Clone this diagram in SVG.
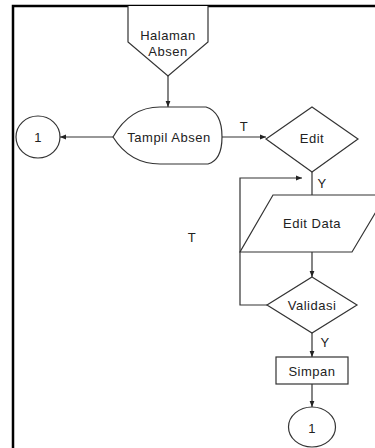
<svg xmlns="http://www.w3.org/2000/svg" width="375" height="448" viewBox="0 0 375 448">
<defs>
<style>
.s{fill:#fff;stroke:#333;stroke-width:1.2}
.c{fill:none;stroke:#333;stroke-width:1.2}
.t{font-family:"Liberation Sans",Arial,sans-serif;font-size:13px;letter-spacing:0.5px;fill:#222;text-anchor:middle;dominant-baseline:central}
</style>
<marker id="a" viewBox="0 0 10 10" refX="10" refY="5" markerWidth="5" markerHeight="5" orient="auto"><path d="M0,1 L10,5 L0,9 Z" fill="#222"/></marker>
</defs>
<rect width="375" height="448" fill="#fff"/>
<path d="M13,448 V6 H375" fill="none" stroke="#000" stroke-width="2.5"/>
<g id="connectors">
<path class="c" d="M168,76 V107" marker-end="url(#a)"/>
<path class="c" d="M113,137 H60" marker-end="url(#a)"/>
<path class="c" d="M222,137 H266" marker-end="url(#a)"/>
<path class="c" d="M312,172 V195"/>
<path class="c" d="M267,305 H240 V178 H302" marker-end="url(#a)"/>
<path class="c" d="M312,252 V277" marker-end="url(#a)"/>
<path class="c" d="M312,333 V357" marker-end="url(#a)"/>
<path class="c" d="M312,384 V407" marker-end="url(#a)"/>
<text class="t" x="244" y="126">T</text>
<text class="t" x="322" y="183">Y</text>
<text class="t" x="192" y="237">T</text>
<text class="t" x="325" y="342">Y</text>
</g>
<g id="halaman">
<path class="s" d="M128,6 V42 L168,76 L208,42 V6"/>
<text class="t" x="168" y="35">Halaman</text>
<text class="t" x="168" y="51">Absen</text>
</g>
<g id="tampil">
<path class="s" d="M113,137 Q130,107 160,107 L206,107 Q222,112 222,137 Q222,160 208,164 L160,164 Q130,164 113,137 Z"/>
<text class="t" x="169" y="137">Tampil Absen</text>
</g>
<g id="con1">
<ellipse class="s" cx="38" cy="137" rx="22" ry="21"/>
<text class="t" x="38" y="137">1</text>
</g>
<g id="edit">
<path class="s" d="M312,107 L358,139 L312,172 L266,139 Z"/>
<text class="t" x="312" y="138">Edit</text>
</g>
<g id="editdata">
<path class="s" d="M273,195 L386,195 L352,252 L240,252 Z"/>
<text class="t" x="312" y="223">Edit Data</text>
</g>
<g id="validasi">
<path class="s" d="M312,277 L357,305 L312,333 L267,305 Z"/>
<text class="t" x="312" y="305">Validasi</text>
</g>
<g id="simpan">
<rect class="s" x="276" y="357" width="72" height="27"/>
<text class="t" x="312" y="371">Simpan</text>
</g>
<g id="con2">
<ellipse class="s" cx="312" cy="427" rx="23.5" ry="20"/>
<text class="t" x="312" y="428">1</text>
</g>
</svg>
